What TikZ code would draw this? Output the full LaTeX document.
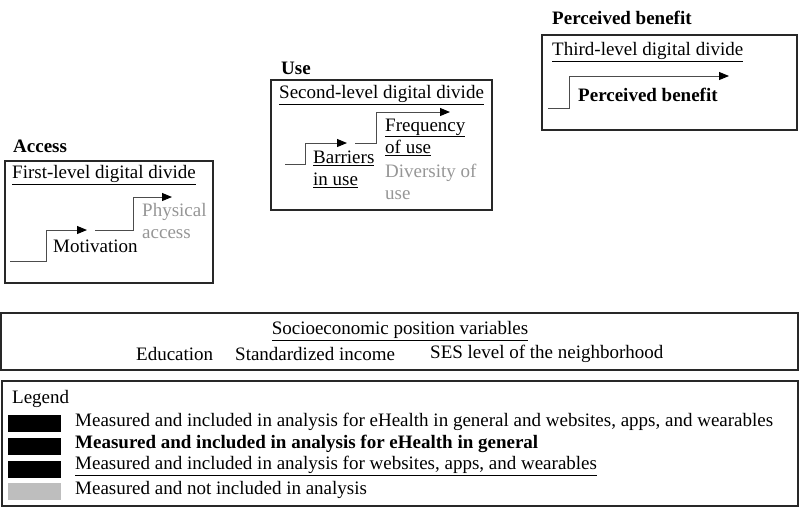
\documentclass[tikz,border=0pt]{standalone}
\usepackage{fontspec}
\setmainfont{Liberation Serif}
\usetikzlibrary{arrows.meta}
\definecolor{boxline}{RGB}{40,40,40}
\definecolor{greytext}{RGB}{150,150,150}
\definecolor{swatchgrey}{RGB}{190,190,190}
\begin{document}
\begin{tikzpicture}[x=1pt,y=-1pt,
  txt/.style={inner sep=0pt, font=\fontsize{19}{22}\selectfont, align=left, anchor=west},
  boldtxt/.style={txt, font=\fontsize{19}{22}\selectfont\bfseries},
  frame/.style={draw=boxline, line width=1.6pt},
  stepline/.style={draw=black!70, line width=1pt, -{Triangle[length=10pt,width=8pt,color=black]}},
  swatch/.style={fill=black, minimum width=53pt, minimum height=17pt, inner sep=0pt, anchor=west},
]
\useasboundingbox (0,0) rectangle (800,512);

% ---------- Access ----------
\node[boldtxt] (accesslbl) at (13,146) {Access};
\draw[frame] (5,161) rectangle (213,283);
\node[txt] (first) at (12,175) {\underline{First-level digital divide}};
\coordinate (a0) at (10,261);
\coordinate (a1) at (87,230);
\coordinate (a2) at (95,230);
\coordinate (a3) at (172,197);
\draw[stepline] (a0) -| (46,230) -- (a1);
\draw[stepline] (a2) -| (133,197) -- (a3);
\node[txt] (motivation) at (53,246) {Motivation};
\node[txt, text=greytext] (physical) at (142,221) {Physical\\access};

% ---------- Use ----------
\node[boldtxt] (uselbl) at (281,68) {Use};
\draw[frame] (271,80) rectangle (492,210);
\node[txt] (second) at (279,95) {\underline{Second-level digital divide}};
\coordinate (u0) at (285,164);
\coordinate (u1) at (347,143);
\coordinate (u2) at (355,143);
\coordinate (u3) at (450,112);
\draw[stepline] (u0) -| (305,143) -- (u1);
\draw[stepline] (u2) -| (376,112) -- (u3);
\node[txt] (barriers) at (313,169) {\underline{Barriers}\\\underline{in use}};
\node[txt] (frequency) at (385,137) {\underline{Frequency}\\\underline{of use}};
\node[txt, text=greytext] (diversity) at (385,182) {Diversity of\\use};

% ---------- Perceived benefit ----------
\node[boldtxt] (benefitlbl) at (552,18) {Perceived benefit};
\draw[frame] (542,35) rectangle (797,130);
\node[txt] (third) at (552,52) {\underline{Third-level digital divide}};
\coordinate (p0) at (548,108);
\coordinate (p1) at (729,76);
\draw[stepline] (p0) -| (569,76) -- (p1);
\node[boldtxt] (benefit) at (578,95) {Perceived benefit};

% ---------- SES ----------
\draw[frame] (1,313) rectangle (798,370);
\node[txt, anchor=center] (sestitle) at (400,331) {\underline{Socioeconomic position variables}};
\node[txt] (education) at (136,354) {Education};
\node[txt] (income) at (235,354) {Standardized income};
\node[txt] (neigh) at (430,354) {SES level of the neighborhood};

% ---------- Legend ----------
\draw[frame] (2,381) rectangle (798,506);
\node[txt] (legend) at (12,399) {Legend};
\node[swatch] (s1) at (8,423) {};
\node[swatch] (s2) at (8,446) {};
\node[swatch] (s3) at (8,469) {};
\node[swatch, fill=swatchgrey] (s4) at (8,491) {};
\node[txt] (l1) at (75,422) {Measured and included in analysis for eHealth in general and websites, apps, and wearables};
\node[boldtxt] (l2) at (75,444) {Measured and included in analysis for eHealth in general};
\node[txt] (l3) at (75,466) {\underline{Measured and included in analysis for websites, apps, and wearables}};
\node[txt] (l4) at (75,490) {Measured and not included in analysis};
\end{tikzpicture}
\end{document}
